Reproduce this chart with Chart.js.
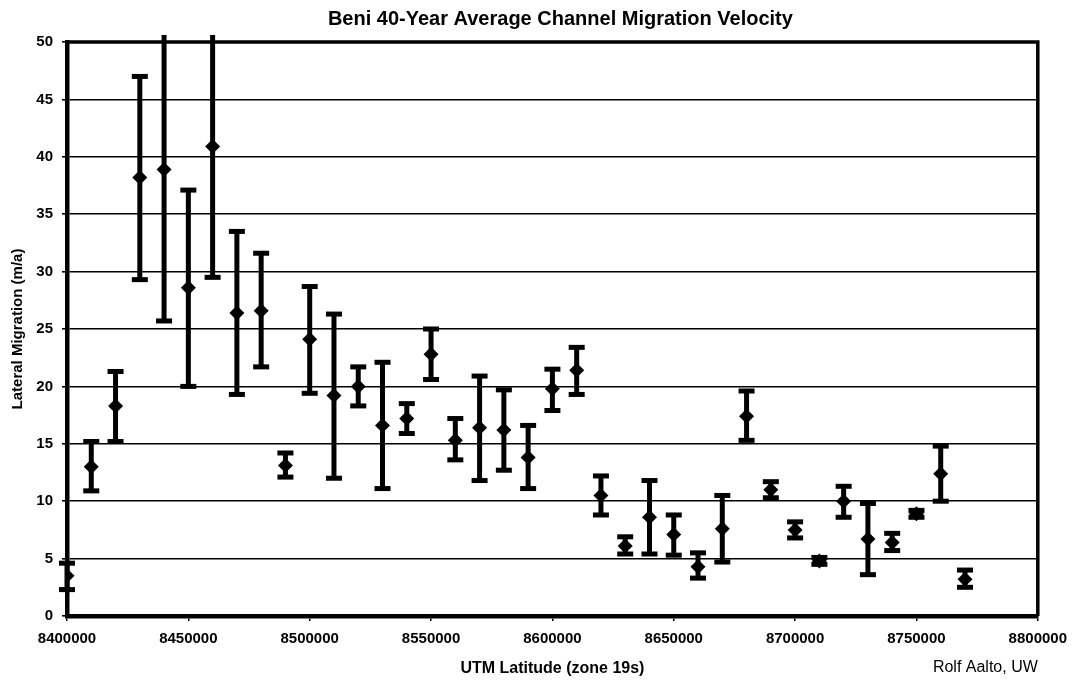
<!DOCTYPE html>
<html>
<head>
<meta charset="utf-8">
<title>Beni 40-Year Average Channel Migration Velocity</title>
<script src="https://cdn.jsdelivr.net/npm/chart.js@4/dist/chart.umd.min.js"></script>
<style>
  html, body { margin: 0; padding: 0; background: #fff; }
  #wrap { width: 1076px; height: 683px; position: relative; }
</style>
</head>
<body>
<div id="wrap"><canvas id="chart"></canvas></div>
<script>
// ---- data (UTM northing, m/a) ----
var LATITUDE = [8400000, 8410000, 8420000, 8430000, 8440000, 8450000, 8460000, 8470000, 8480000, 8490000,
  8500000, 8510000, 8520000, 8530000, 8540000, 8550000, 8560000, 8570000, 8580000, 8590000,
  8600000, 8610000, 8620000, 8630000, 8640000, 8650000, 8660000, 8670000, 8680000, 8690000,
  8700000, 8710000, 8720000, 8730000, 8740000, 8750000, 8760000, 8770000];
var VELOCITY = [3.5, 13.0, 18.3, 38.2, 38.9, 28.6, 40.9, 26.4, 26.6, 13.1,
  24.1, 19.2, 20.0, 16.6, 17.2, 22.8, 15.3, 16.4, 16.2, 13.8,
  19.8, 21.4, 10.5, 6.1, 8.6, 7.1, 4.3, 7.6, 17.4, 11.0,
  7.5, 4.8, 10.0, 6.7, 6.4, 8.9, 12.4, 3.2];
var LOW = [2.3, 10.9, 15.2, 29.3, 25.7, 20.0, 29.5, 19.3, 21.7, 12.1,
  19.4, 12.0, 18.3, 11.1, 15.9, 20.6, 13.6, 11.8, 12.7, 11.1,
  17.9, 19.3, 8.8, 5.4, 5.4, 5.3, 3.3, 4.7, 15.3, 10.3,
  6.8, 4.5, 8.6, 3.6, 5.7, 8.6, 10.0, 2.5];
var HIGH = [4.6, 15.2, 21.3, 47.0, 50.6, 37.1, 50.6, 33.5, 31.6, 14.2,
  28.7, 26.3, 21.7, 22.1, 18.5, 25.0, 17.2, 20.9, 19.7, 16.6,
  21.5, 23.4, 12.2, 6.9, 11.8, 8.8, 5.5, 10.5, 19.6, 11.7,
  8.2, 5.1, 11.3, 9.8, 7.2, 9.2, 14.8, 4.0];

var X_MIN = 8400000, X_MAX = 8800000, X_STEP = 50000;
var Y_MIN = 0, Y_MAX = 50, Y_STEP = 5;

var TITLE = "Beni 40-Year Average Channel Migration Velocity";
var CREDIT = "Rolf Aalto, UW";
var FONT = "'Liberation Sans', Arial, sans-serif";

// error bars: stem + caps, drawn through the chart's own scales
var errorBars = {
  id: "errorBars",
  beforeDatasetsDraw: function (chart) {
    var ctx = chart.ctx, xs = chart.scales.x, ys = chart.scales.y;
    ctx.save();
    ctx.strokeStyle = "#000";
    ctx.fillStyle = "#000";
    LATITUDE.forEach(function (lat, i) {
      var px = xs.getPixelForValue(lat);
      var top = ys.getPixelForValue(HIGH[i]);
      var bot = ys.getPixelForValue(LOW[i]);
      ctx.lineWidth = 5;
      ctx.beginPath(); ctx.moveTo(px, top); ctx.lineTo(px, bot); ctx.stroke();
      if (HIGH[i] <= Y_MAX) ctx.fillRect(px - 8, top - 2.5, 16, 5);
      ctx.fillRect(px - 8, bot - 2.5, 16, 5);
    });
    ctx.restore();
  }
};

// plot frame (top/right), title over the plot area, credit line
var frame = {
  id: "frame",
  afterDraw: function (chart) {
    var ctx = chart.ctx, a = chart.chartArea;
    ctx.save();
    ctx.strokeStyle = "#000";
    ctx.lineWidth = 3.5;
    ctx.beginPath();
    ctx.moveTo(a.left, a.top); ctx.lineTo(a.right, a.top); ctx.lineTo(a.right, a.bottom);
    ctx.stroke();
    ctx.fillStyle = "#000";
    ctx.textBaseline = "middle";
    ctx.textAlign = "center";
    ctx.font = "bold 20px " + FONT;
    ctx.fillText(TITLE, (a.left + a.right) / 2 + 8, 19);
    ctx.font = "16px " + FONT;
    ctx.textAlign = "right";
    ctx.fillText(CREDIT, a.right, 668);
    ctx.restore();
  }
};

var points = LATITUDE.map(function (x, i) { return { x: x, y: VELOCITY[i] }; });

new Chart(document.getElementById("chart"), {
  type: "scatter",
  data: {
    datasets: [{
      data: points,
      pointStyle: "rectRot",
      pointRadius: 7.5,
      pointHoverRadius: 7.5,
      backgroundColor: "#000",
      borderColor: "#000",
      borderWidth: 0
    }]
  },
  plugins: [errorBars, frame],
  options: {
    responsive: true,
    maintainAspectRatio: false,
    animation: false,
    events: [],
    layout: { padding: { left: 0, right: 38, top: 42, bottom: 0 } },
    plugins: {
      legend: { display: false },
      tooltip: { enabled: false },
      title: { display: false }
    },
    scales: {
      x: {
        type: "linear",
        min: X_MIN, max: X_MAX,
        afterFit: function (s) { s.height = 67; },
        border: { color: "#000", width: 4.5 },
        grid: { drawOnChartArea: false, drawTicks: true, tickLength: 5, color: "#000", lineWidth: 1.5 },
        ticks: {
          stepSize: X_STEP, padding: 9, color: "#000", maxRotation: 0,
          font: { family: FONT, size: 15, weight: "bold" },
          callback: function (v) { return String(v); }
        },
        title: {
          display: true, text: "UTM Latitude (zone 19s)", color: "#000",
          font: { family: FONT, size: 16, weight: "bold" },
          padding: { top: 0, bottom: 5 }
        }
      },
      y: {
        min: Y_MIN, max: Y_MAX,
        afterFit: function (s) { s.width = 67; },
        border: { color: "#000", width: 4.5 },
        grid: { color: "#000", lineWidth: 1.6, tickLength: 5 },
        ticks: {
          stepSize: Y_STEP, padding: 9, color: "#000",
          font: { family: FONT, size: 15, weight: "bold" }
        },
        title: {
          display: true, text: "Lateral Migration (m/a)", color: "#000",
          font: { family: FONT, size: 15, weight: "bold" },
          padding: { top: 9, bottom: 0 }
        }
      }
    }
  }
});
</script>
</body>
</html>
